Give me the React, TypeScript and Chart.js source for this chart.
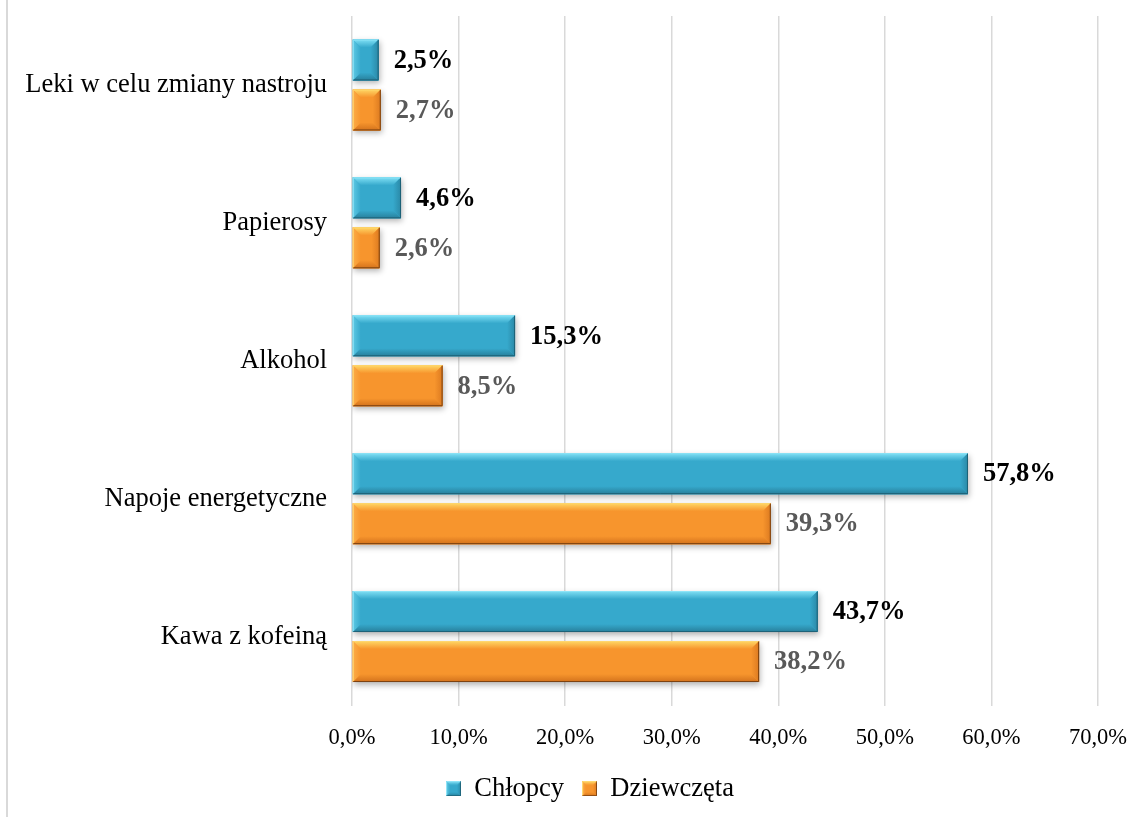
import React, { useEffect, useRef } from "react";
import { Chart, registerables } from "chart.js";

Chart.register(...registerables);

const categories = [
  "Leki w celu zmiany nastroju",
  "Papierosy",
  "Alkohol",
  "Napoje energetyczne",
  "Kawa z kofeiną",
];
const boysValues = [2.5, 4.6, 15.3, 57.8, 43.7];
const girlsValues = [2.7, 2.6, 8.5, 39.3, 38.2];
const seriesNames = ["Chłopcy", "Dziewczęta"];
const xTickMax = 70;
const xTickStep = 10;

const FONT = "'Times New Roman', 'Liberation Serif', serif";

const palettes = [
  { main: "#36a9cc", top: "#80e0f5", left: "#5ec9e4", right: "#2a88a6", bottom: "#277f9b", edgeDark: "#1d6176", edgeLight: "#8fe4f7", label: "#000000" },
  { main: "#f7952d", top: "#ffd866", left: "#fbad48", right: "#dc7a20", bottom: "#d3721c", edgeDark: "#7a4010", edgeLight: "#ffd870", label: "#595959" },
];

const fmt = (v: number) => v.toFixed(1).replace(".", ",") + "%";

function drawBevel(ctx: CanvasRenderingContext2D, l: number, t: number, r: number, b: number, pal: any, maxBevel: number) {
  const bv = Math.min(maxBevel, (r - l) / 2, (b - t) / 2);
  const poly = (pts: number[][], fill: any) => {
    ctx.beginPath();
    ctx.moveTo(pts[0][0], pts[0][1]);
    for (let k = 1; k < pts.length; k++) ctx.lineTo(pts[k][0], pts[k][1]);
    ctx.closePath();
    ctx.fillStyle = fill;
    ctx.fill();
  };
  const g = (x0: number, y0: number, x1: number, y1: number, c0: string, c1: string) => {
    const gr = ctx.createLinearGradient(x0, y0, x1, y1);
    gr.addColorStop(0, c0);
    gr.addColorStop(1, c1);
    return gr;
  };
  poly([[l, t], [r, t], [r, b], [l, b]], pal.main);
  poly([[l, t], [r, t], [r - bv, t + bv], [l + bv, t + bv]], g(0, t, 0, t + bv, pal.top, pal.main));
  poly([[l, b], [r, b], [r - bv, b - bv], [l + bv, b - bv]], g(0, b, 0, b - bv, pal.bottom, pal.main));
  poly([[l, t], [l + bv, t + bv], [l + bv, b - bv], [l, b]], g(l, 0, l + bv, 0, pal.left, pal.main));
  poly([[r, t], [r - bv, t + bv], [r - bv, b - bv], [r, b]], g(r, 0, r - bv, 0, pal.right, pal.main));
  ctx.lineWidth = 1;
  ctx.strokeStyle = pal.edgeLight;
  ctx.beginPath();
  ctx.moveTo(l + 0.5, b - 0.5);
  ctx.lineTo(l + 0.5, t + 0.5);
  ctx.lineTo(r - 0.5, t + 0.5);
  ctx.stroke();
  ctx.strokeStyle = pal.edgeDark;
  ctx.beginPath();
  ctx.moveTo(r - 0.5, t + 0.5);
  ctx.lineTo(r - 0.5, b - 0.5);
  ctx.lineTo(l + 0.5, b - 0.5);
  ctx.stroke();
}

function legendIcon(pal: any) {
  const c = document.createElement("canvas");
  c.width = 15;
  c.height = 15;
  const ctx = c.getContext("2d") as CanvasRenderingContext2D;
  drawBevel(ctx, 0, 0, 15, 15, pal, 4);
  return c;
}

const bevelPlugin = {
  id: "bevel",
  beforeDatasetDraw(chart: any) {
    const ctx = chart.ctx;
    ctx.save();
    ctx.shadowColor = "rgba(0,0,0,0.3)";
    ctx.shadowBlur = 6;
    ctx.shadowOffsetX = 1;
    ctx.shadowOffsetY = 3;
  },
  afterDatasetDraw(chart: any, args: any) {
    const ctx = chart.ctx;
    ctx.restore();
    const pal = palettes[args.index];
    const meta = chart.getDatasetMeta(args.index);
    meta.data.forEach((el: any, i: number) => {
      const { x, y, base, height } = el.getProps(["x", "y", "base", "height"], true);
      const l = Math.min(base, x);
      const r = Math.max(base, x);
      const t = y - height / 2;
      const b = y + height / 2;
      ctx.save();
      drawBevel(ctx, l, t, r, b, pal, 8);
      const value = chart.data.datasets[args.index].data[i];
      ctx.fillStyle = pal.label;
      ctx.font = `bold 26.5px ${FONT}`;
      ctx.textAlign = "left";
      ctx.textBaseline = "middle";
      ctx.fillText(fmt(value), r + 15, y + 1);
      ctx.restore();
    });
  },
};

const legendShiftPlugin = {
  id: "legendShift",
  afterLayout(chart: any) {
    if (chart.legend) {
      chart.legend.left += 41;
      chart.legend.right += 41;
      chart.legend.top += 2;
      chart.legend.bottom += 2;
    }
  },
};

export default function App() {
  const canvasRef = useRef<HTMLCanvasElement | null>(null);

  useEffect(() => {
    document.body.style.margin = "0";
    const canvas = canvasRef.current;
    if (!canvas) return;
    const icons = palettes.map((p) => legendIcon(p));
    const chart = new Chart(canvas, {
      type: "bar",
      data: {
        labels: categories,
        datasets: [
          {
            label: seriesNames[0],
            data: boysValues,
            backgroundColor: palettes[0].main,
            borderWidth: 0,
            categoryPercentage: 0.725,
            barPercentage: 0.82,
          },
          {
            label: seriesNames[1],
            data: girlsValues,
            backgroundColor: palettes[1].main,
            borderWidth: 0,
            categoryPercentage: 0.725,
            barPercentage: 0.82,
          },
        ],
      },
      options: {
        indexAxis: "y",
        responsive: false,
        maintainAspectRatio: false,
        animation: false,
        layout: { padding: { top: 16, right: 50, bottom: 7, left: 0 } },
        scales: {
          x: {
            min: 0,
            max: xTickMax,
            ticks: {
              stepSize: xTickStep,
              padding: 19,
              color: "#000000",
              font: { family: FONT, size: 22.5 },
              callback: (v: any) => fmt(Number(v)),
            },
            grid: { color: "#d9d9d9", lineWidth: 1.5, drawTicks: false },
            border: { display: false },
            afterFit: (s: any) => {
              s.height = 50;
            },
          },
          y: {
            ticks: {
              padding: 25,
              color: "#000000",
              font: { family: FONT, size: 26.5 },
            },
            grid: { display: false, drawTicks: false },
            border: { display: false },
            afterFit: (s: any) => {
              s.width = 352;
              s.paddingTop = 0;
              s.paddingBottom = 0;
            },
          },
        },
        plugins: {
          legend: {
            position: "bottom",
            labels: {
              usePointStyle: true,
              boxWidth: 15,
              boxHeight: 15,
              padding: 18,
              color: "#000000",
              font: { family: FONT, size: 26.5 },
              generateLabels: (ch: any) =>
                ch.data.datasets.map((ds: any, i: number) => ({
                  text: ds.label,
                  fillStyle: palettes[i].main,
                  strokeStyle: palettes[i].main,
                  lineWidth: 0,
                  pointStyle: icons[i],
                  hidden: false,
                  datasetIndex: i,
                  fontColor: "#000000",
                })),
            },
          },
          tooltip: { enabled: false },
        },
      },
      plugins: [bevelPlugin, legendShiftPlugin],
    } as any);
    return () => chart.destroy();
  }, []);

  return (
    <div style={{ position: "relative", width: 1148, height: 817, background: "#ffffff" }}>
      <div
        style={{
          position: "absolute",
          left: 6,
          top: 0,
          width: 1.5,
          height: 817,
          background: "#d9d9d9",
        }}
      />
      <canvas ref={canvasRef} width={1148} height={817} style={{ display: "block" }} />
    </div>
  );
}
